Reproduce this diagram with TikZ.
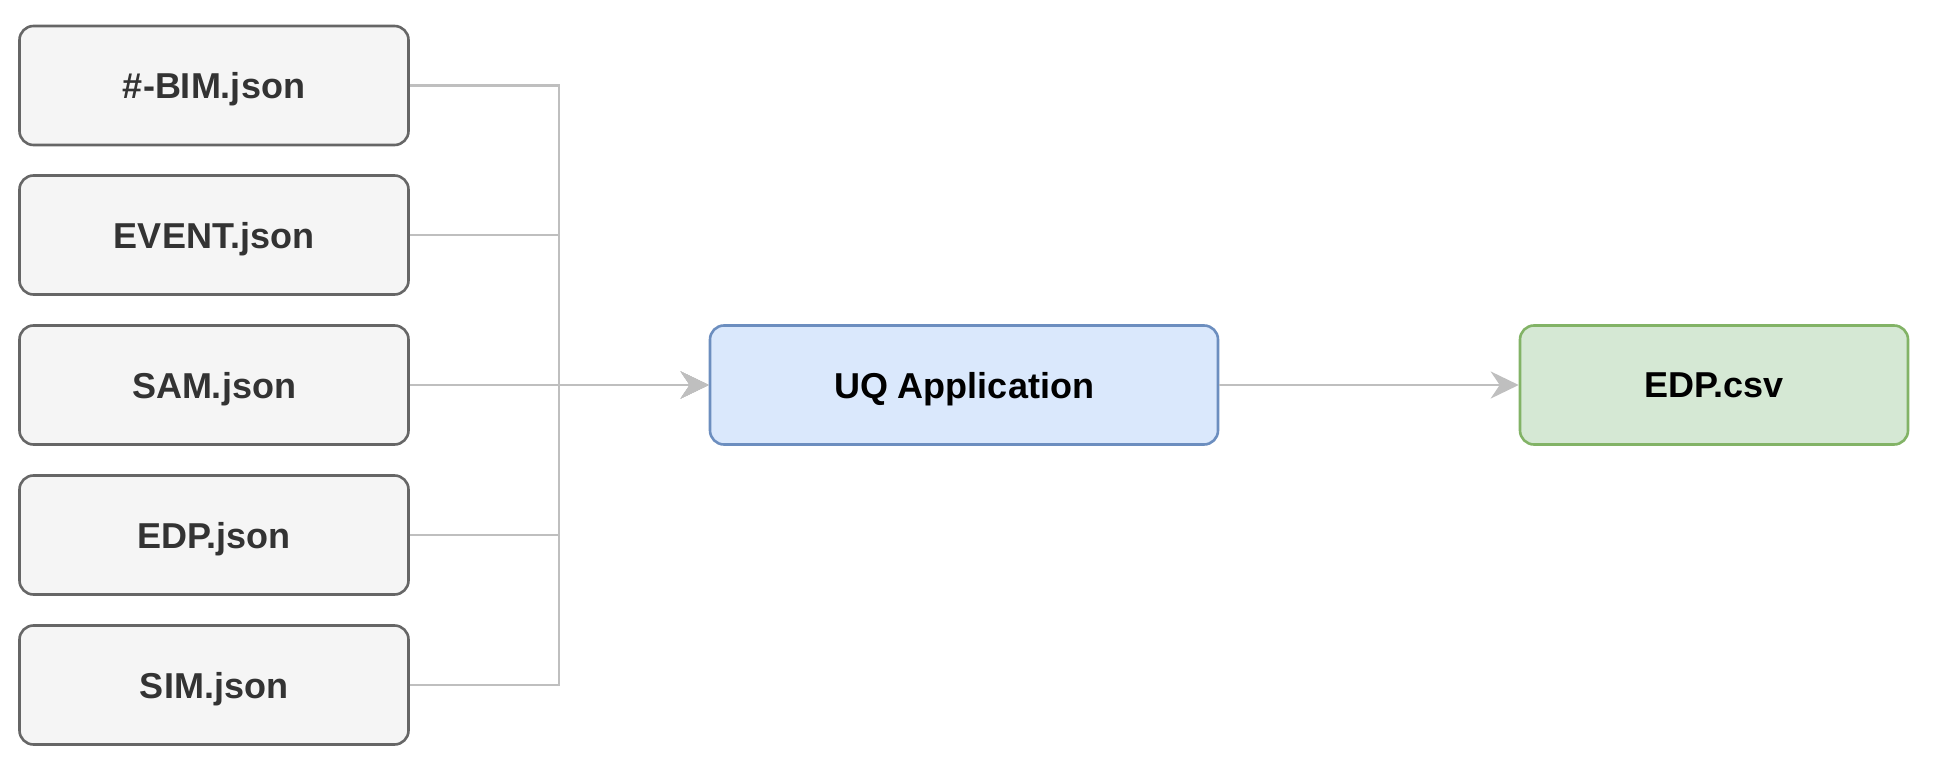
\documentclass[tikz,border=0pt]{standalone}
\usepackage{fontspec}
\setmainfont{Liberation Sans}
\usetikzlibrary{arrows.meta}
\definecolor{gfill}{HTML}{F5F5F5}
\definecolor{gdraw}{HTML}{666666}
\definecolor{gtext}{HTML}{333333}
\definecolor{bfill}{HTML}{DAE8FC}
\definecolor{bdraw}{HTML}{6C8EBF}
\definecolor{vfill}{HTML}{D5E8D4}
\definecolor{vdraw}{HTML}{82B366}
\definecolor{conn}{HTML}{BFBFBF}
\tikzset{
  base/.style={rectangle, rounded corners=14pt, line width=2.6pt, minimum height=119pt,
    font=\fontsize{36}{40}\selectfont\bfseries, inner sep=0pt, text depth=0pt},
  filebox/.style={base, fill=gfill, draw=gdraw, text=gtext, minimum width=389pt},
  appbox/.style={base, fill=bfill, draw=bdraw, text=black, minimum width=508pt},
  outbox/.style={base, fill=vfill, draw=vdraw, text=black, minimum width=388pt},
  link/.style={draw=conn, line width=2.8pt, -{Stealth[length=28pt, width=27pt, inset=9pt]}}
}
\begin{document}
\begin{tikzpicture}[x=1pt, y=-1pt]
\useasboundingbox (0,0) rectangle (1940,770);
\node[filebox] (b1) at (214,85.5) {\#-BIM.json};
\node[filebox] (b2) at (214,235) {EVENT.json};
\node[filebox] (b3) at (214,385) {SAM.json};
\node[filebox] (b4) at (214,535) {EDP.json};
\node[filebox] (b5) at (214,685) {SIM.json};
\node[appbox] (uq) at (964,385) {UQ Application};
\node[outbox] (out) at (1714,385) {EDP.csv};
\coordinate (jx) at (559,385);
\foreach \b in {b1,b2,b4,b5}{
  \draw[link] (\b.east) -- (\b.east -| jx) -- (jx) -- (uq.west);
}
\draw[link] (b3.east) -- (uq.west);
\draw[link] (uq.east) -- (out.west);
\end{tikzpicture}
\end{document}
